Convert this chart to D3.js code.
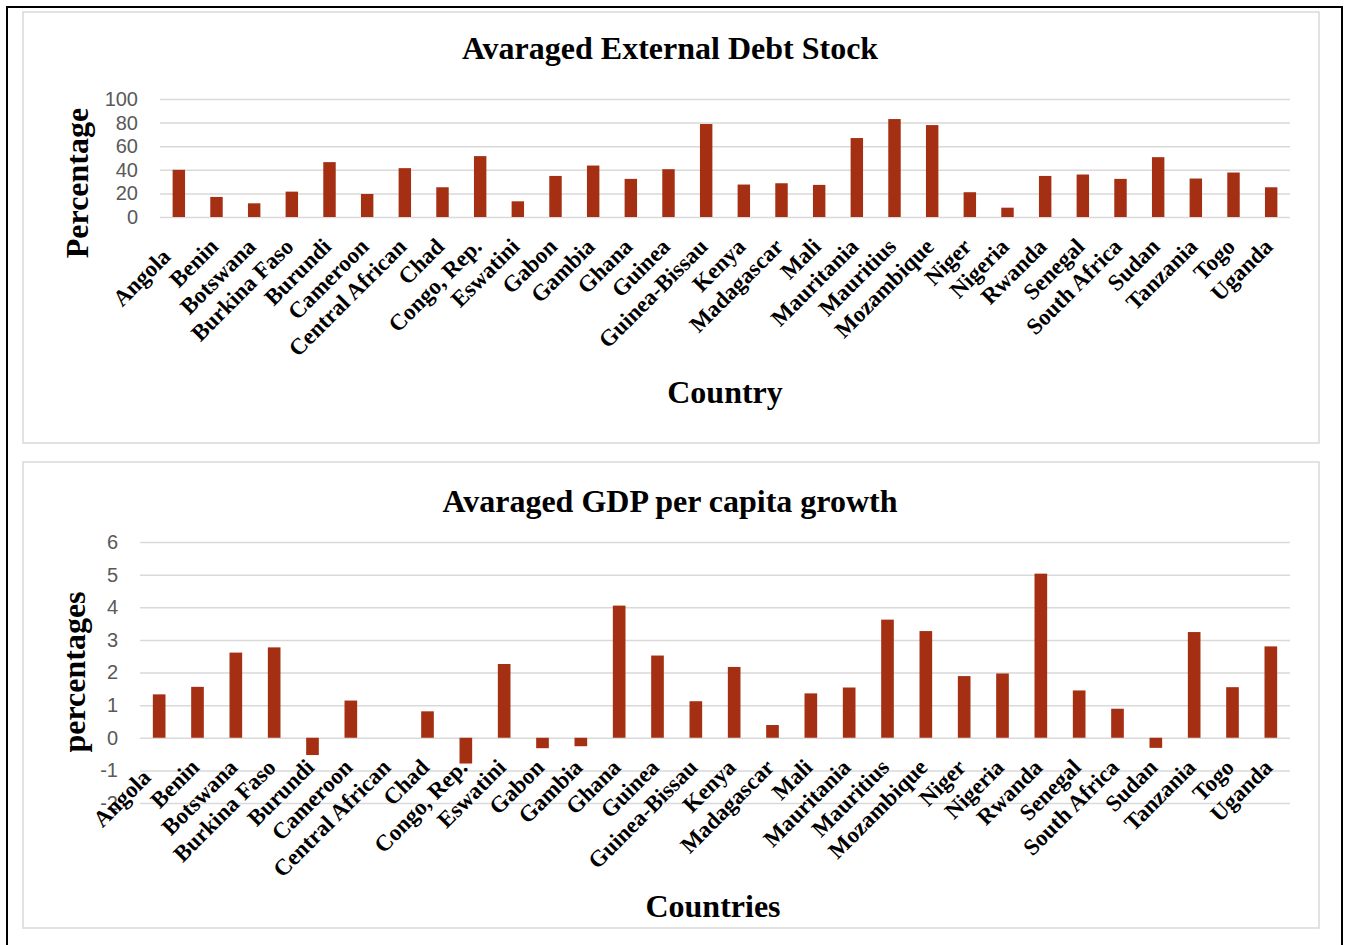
<!DOCTYPE html>
<html>
<head>
<meta charset="utf-8">
<script src="https://cdn.jsdelivr.net/npm/d3@7"></script>
<style>
  body { margin: 0; background: #fff; }
  svg { display: block; }
</style>
</head>
<body>
<svg id="chart" width="1348" height="945"></svg>
<script>
// Countries shared by both panels
const countries = ["Angola","Benin","Botswana","Burkina Faso","Burundi","Cameroon","Central African","Chad","Congo, Rep.","Eswatini","Gabon","Gambia","Ghana","Guinea","Guinea-Bissau","Kenya","Madagascar","Mali","Mauritania","Mauritius","Mozambique","Niger","Nigeria","Rwanda","Senegal","South Africa","Sudan","Tanzania","Togo","Uganda"];

// Averaged external debt stock (% of GNI)
const debtStock = [40, 17, 11.6, 21.5, 46.5, 19.5, 41.4, 25.2, 51.6, 13.3, 34.8, 43.6, 32.3, 40.5, 78.8, 27.5, 28.6, 27.2, 66.9, 83, 77.9, 21, 7.9, 34.8, 36, 32.3, 50.7, 32.6, 37.7, 25.2];

// Averaged GDP per capita growth (%)
const gdpGrowth = [1.33, 1.56, 2.61, 2.77, -0.53, 1.14, 0, 0.81, -0.79, 2.26, -0.32, -0.26, 4.05, 2.52, 1.12, 2.17, 0.39, 1.36, 1.54, 3.62, 3.27, 1.89, 1.97, 5.03, 1.45, 0.89, -0.31, 3.24, 1.55, 2.8];

const debtTicks = [0, 20, 40, 60, 80, 100];
const gdpTicks = [-2, -1, 0, 1, 2, 3, 4, 5, 6];

const BAR = "#a52f12";
const GRID = "#d9d9d9";
const SERIF = "'Liberation Serif','Times New Roman',serif";
const SANS = "'Liberation Sans',Arial,sans-serif";

const svg = d3.select("#chart");
svg.append("rect").attr("width", 1348).attr("height", 945).attr("fill", "#fff");

// outer frame (bottom edge runs past the page)
svg.append("rect")
  .attr("x", 7).attr("y", 7).attr("width", 1335).attr("height", 950)
  .attr("fill", "none").attr("stroke", "#000").attr("stroke-width", 2);

function drawPanel(cfg) {
  const g = svg.append("g");

  g.append("rect")
    .attr("x", cfg.box[0]).attr("y", cfg.box[1])
    .attr("width", cfg.box[2]).attr("height", cfg.box[3])
    .attr("fill", "#fff").attr("stroke", GRID).attr("stroke-width", 1.5);

  const x = d3.scaleBand()
    .domain(countries)
    .range(cfg.xRange)
    .paddingInner(0.67)
    .paddingOuter(0.335);

  const y = d3.scaleLinear()
    .domain(cfg.yDomain)
    .range(cfg.yRange);

  // gridlines + value labels
  const yAxis = g.append("g")
    .attr("transform", `translate(${cfg.xRange[0]},0)`)
    .call(d3.axisLeft(y)
      .tickValues(cfg.ticks)
      .tickSize(-(cfg.xRange[1] - cfg.xRange[0]))
      .tickPadding(22)
      .tickFormat(d => String(d)));
  yAxis.select(".domain").remove();
  yAxis.selectAll(".tick line").attr("stroke", GRID).attr("stroke-width", 1.5);
  yAxis.selectAll(".tick text")
    .attr("fill", "#595959")
    .style("font-family", SANS)
    .style("font-size", "20px");

  // bars
  g.append("g").selectAll("rect")
    .data(cfg.values)
    .join("rect")
    .attr("x", (d, i) => x(countries[i]))
    .attr("width", x.bandwidth())
    .attr("y", d => y(Math.max(0, d)))
    .attr("height", d => Math.abs(y(d) - y(0)))
    .attr("fill", BAR);

  // category labels, slanted; the first one sits a little further down its slant
  const xAxis = g.append("g")
    .attr("transform", `translate(0,${y(0)})`)
    .call(d3.axisBottom(x).tickSize(0).tickPadding(0));
  xAxis.select(".domain").remove();
  xAxis.selectAll(".tick text")
    .attr("y", 0).attr("dy", 0)
    .attr("transform", (d, i) => {
      const dx = 3 - (i === 0 ? 10 : 0);
      const dy = 31 + (i === 0 ? 10 : 0);
      return `translate(${dx},${dy}) rotate(-45)`;
    })
    .attr("text-anchor", "end")
    .attr("fill", "#000")
    .style("font-family", SERIF)
    .style("font-weight", "bold")
    .style("font-size", "23px");

  // titles
  g.append("text")
    .attr("x", cfg.title[1]).attr("y", cfg.title[2])
    .attr("text-anchor", "middle")
    .style("font-family", SERIF).style("font-weight", "bold").style("font-size", "32px")
    .text(cfg.title[0]);

  g.append("text")
    .attr("x", cfg.xTitle[1]).attr("y", cfg.xTitle[2])
    .attr("text-anchor", "middle")
    .style("font-family", SERIF).style("font-weight", "bold").style("font-size", "32px")
    .text(cfg.xTitle[0]);

  g.append("text")
    .attr("transform", `translate(${cfg.yTitle[1]},${cfg.yTitle[2]}) rotate(-90)`)
    .attr("text-anchor", "middle")
    .style("font-family", SERIF).style("font-weight", "bold").style("font-size", "32px")
    .text(cfg.yTitle[0]);
}

drawPanel({
  box: [23, 12, 1296, 431],
  xRange: [160, 1290],
  yDomain: [0, 100],
  yRange: [217, 99],
  ticks: debtTicks,
  values: debtStock,
  title: ["Avaraged External Debt Stock", 670, 59],
  xTitle: ["Country", 725, 403],
  yTitle: ["Percentage", 88, 183]
});

drawPanel({
  box: [23, 462, 1296, 466],
  xRange: [140, 1290],
  yDomain: [-2, 6],
  yRange: [803, 542],
  ticks: gdpTicks,
  values: gdpGrowth,
  title: ["Avaraged GDP per capita growth", 670, 512],
  xTitle: ["Countries", 713, 917],
  yTitle: ["percentages", 85, 672]
});
</script>
</body>
</html>
